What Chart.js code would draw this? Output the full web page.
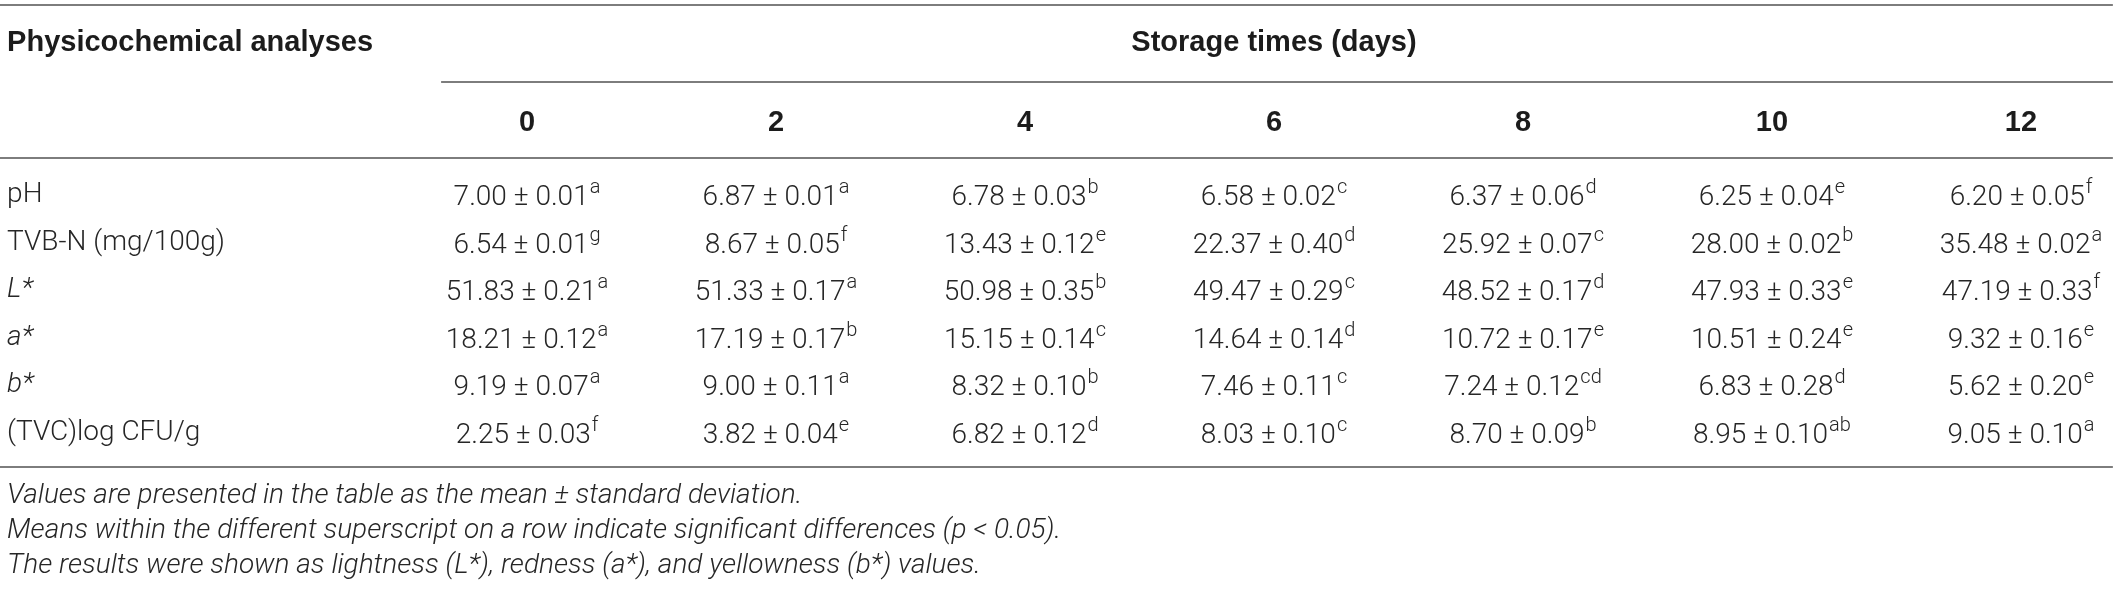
<!DOCTYPE html>
<html>
<head>
<meta charset="utf-8">
<title>Physicochemical analyses</title>
<script src="https://cdn.jsdelivr.net/npm/chart.js@4.4.1/dist/chart.umd.min.js"></script>
<style>
  html, body { margin: 0; padding: 0; background: #fff; }
  canvas { display: block; }
</style>
</head>
<body>
<canvas id="table" width="2118" height="589"></canvas>
<script>
// table content
const storageDays = ["0", "2", "4", "6", "8", "10", "12"];
const analyses = ["pH", "TVB-N (mg/100g)", "L*", "a*", "b*", "(TVC)log CFU/g"];

const phMean = [7.00, 6.87, 6.78, 6.58, 6.37, 6.25, 6.20];
const phSd = [0.01, 0.01, 0.03, 0.02, 0.06, 0.04, 0.05];
const phSig = ["a", "a", "b", "c", "d", "e", "f"];

const tvbnMean = [6.54, 8.67, 13.43, 22.37, 25.92, 28.00, 35.48];
const tvbnSd = [0.01, 0.05, 0.12, 0.40, 0.07, 0.02, 0.02];
const tvbnSig = ["g", "f", "e", "d", "c", "b", "a"];

const lMean = [51.83, 51.33, 50.98, 49.47, 48.52, 47.93, 47.19];
const lSd = [0.21, 0.17, 0.35, 0.29, 0.17, 0.33, 0.33];
const lSig = ["a", "a", "b", "c", "d", "e", "f"];

const aMean = [18.21, 17.19, 15.15, 14.64, 10.72, 10.51, 9.32];
const aSd = [0.12, 0.17, 0.14, 0.14, 0.17, 0.24, 0.16];
const aSig = ["a", "b", "c", "d", "e", "e", "e"];

const bMean = [9.19, 9.00, 8.32, 7.46, 7.24, 6.83, 5.62];
const bSd = [0.07, 0.11, 0.10, 0.11, 0.12, 0.28, 0.20];
const bSig = ["a", "a", "b", "c", "cd", "d", "e"];

const tvcMean = [2.25, 3.82, 6.82, 8.03, 8.70, 8.95, 9.05];
const tvcSd = [0.03, 0.04, 0.12, 0.10, 0.09, 0.10, 0.10];
const tvcSig = ["f", "e", "d", "c", "b", "ab", "a"];

const rowTitle = "Physicochemical analyses";
const groupTitle = "Storage times (days)";
const footnotes = [
  "Values are presented in the table as the mean \u00b1 standard deviation.",
  "Means within the different superscript on a row indicate significant differences (p < 0.05).",
  "The results were shown as lightness (L*), redness (a*), and yellowness (b*) values."
];

const means = [phMean, tvbnMean, lMean, aMean, bMean, tvcMean];
const sds = [phSd, tvbnSd, lSd, aSd, bSd, tvcSd];
const sigs = [phSig, tvbnSig, lSig, aSig, bSig, tvcSig];

// layout, in scale units (x: one unit per day column, y: one unit per data row)
const X_MIN = -2.1165, X_MAX = 6.3896;
const Y_MIN = -4.1053, Y_MAX = 8.2947;
const LABEL_X = -2.088;
const GROUP_RULE_X = -0.345;
const RULE_END_X = 6.369;
const ROW_TOP_RULE = -4.0, ROW_TITLE = -3.2, ROW_GROUP_RULE = -2.379;
const ROW_DAYS = -1.516, ROW_HEAD_RULE = -0.779, ROW_BOTTOM_RULE = 5.726;
const ROW_NOTES = [6.337, 7.074, 7.811];

const BODY_FONT = "300 28px Roboto, 'Liberation Sans', sans-serif";
const SUP_FONT = "300 20px Roboto, 'Liberation Sans', sans-serif";
const HEAD_FONT = "bold 29px 'Liberation Sans', Arial, sans-serif";
const LABEL_ITALIC = "italic 300 28px Roboto, 'Liberation Sans', sans-serif";
const NOTE_FONT = "italic 300 28px Roboto, 'Liberation Sans', sans-serif";

const cellPoints = [];
means.forEach((row, r) => {
  row.forEach((m, c) => {
    cellPoints.push({ x: c, y: r, text: m.toFixed(2) + " \u00b1 " + sds[r][c].toFixed(2), sup: sigs[r][c] });
  });
});
const labelPoints = analyses.map((name, r) => ({ x: LABEL_X, y: r, text: name }));

function hRule(ctx, x1, x2, y) {
  ctx.save();
  ctx.strokeStyle = "#7d7d7d";
  ctx.lineWidth = 2;
  ctx.beginPath();
  ctx.moveTo(x1, y);
  ctx.lineTo(x2, y);
  ctx.stroke();
  ctx.restore();
}

const tablePlugin = {
  id: "tableText",
  afterDatasetsDraw(chart) {
    const ctx = chart.ctx;
    const xs = chart.scales.x;
    const ys = chart.scales.y;
    const left = chart.chartArea.left;
    const right = xs.getPixelForValue(RULE_END_X);

    // rules
    hRule(ctx, left, right, ys.getPixelForValue(ROW_TOP_RULE));
    hRule(ctx, xs.getPixelForValue(GROUP_RULE_X), right, ys.getPixelForValue(ROW_GROUP_RULE));
    hRule(ctx, left, right, ys.getPixelForValue(ROW_HEAD_RULE));
    hRule(ctx, left, right, ys.getPixelForValue(ROW_BOTTOM_RULE));

    ctx.save();
    ctx.textBaseline = "middle";
    ctx.fillStyle = "#1c1c1c";
    ctx.font = HEAD_FONT;
    ctx.textAlign = "left";
    ctx.fillText(rowTitle, xs.getPixelForValue(LABEL_X), ys.getPixelForValue(ROW_TITLE));
    ctx.textAlign = "center";
    const mid = (xs.getPixelForValue(0) + xs.getPixelForValue(storageDays.length - 1)) / 2;
    ctx.fillText(groupTitle, mid, ys.getPixelForValue(ROW_TITLE));
    storageDays.forEach((d, i) => {
      ctx.fillText(d, xs.getPixelForValue(i), ys.getPixelForValue(ROW_DAYS));
    });

    // row labels
    ctx.fillStyle = "#262626";
    ctx.textAlign = "left";
    const labelMeta = chart.getDatasetMeta(1);
    labelMeta.data.forEach((pt, i) => {
      const lab = chart.data.datasets[1].data[i].text;
      ctx.font = lab.endsWith("*") ? LABEL_ITALIC : BODY_FONT;
      ctx.fillText(lab, pt.x, pt.y);
    });

    // cells: mean ± sd with superscript letters
    const cellMeta = chart.getDatasetMeta(0);
    ctx.textBaseline = "alphabetic";
    cellMeta.data.forEach((pt, i) => {
      const cell = chart.data.datasets[0].data[i];
      ctx.font = BODY_FONT;
      const w1 = ctx.measureText(cell.text).width;
      ctx.font = SUP_FONT;
      const w2 = ctx.measureText(cell.sup).width;
      const x0 = pt.x - (w1 + w2 + 1) / 2;
      const base = pt.y + 10;
      ctx.font = BODY_FONT;
      ctx.fillText(cell.text, x0, base);
      ctx.font = SUP_FONT;
      ctx.fillText(cell.sup, x0 + w1 + 1, base - 12);
    });

    // footnotes
    ctx.textBaseline = "middle";
    ctx.font = NOTE_FONT;
    footnotes.forEach((t, i) => {
      ctx.fillText(t, xs.getPixelForValue(LABEL_X), ys.getPixelForValue(ROW_NOTES[i]));
    });
    ctx.restore();
  }
};

new Chart(document.getElementById("table"), {
  type: "scatter",
  data: {
    datasets: [
      { label: "cells", data: cellPoints, pointRadius: 0, pointHoverRadius: 0 },
      { label: "labels", data: labelPoints, pointRadius: 0, pointHoverRadius: 0 }
    ]
  },
  options: {
    responsive: false,
    animation: false,
    events: [],
    layout: { padding: 0 },
    plugins: { legend: { display: false }, tooltip: { enabled: false } },
    scales: {
      x: { type: "linear", min: X_MIN, max: X_MAX, display: false },
      y: { type: "linear", min: Y_MIN, max: Y_MAX, reverse: true, display: false }
    }
  },
  plugins: [tablePlugin]
});
</script>
</body>
</html>
